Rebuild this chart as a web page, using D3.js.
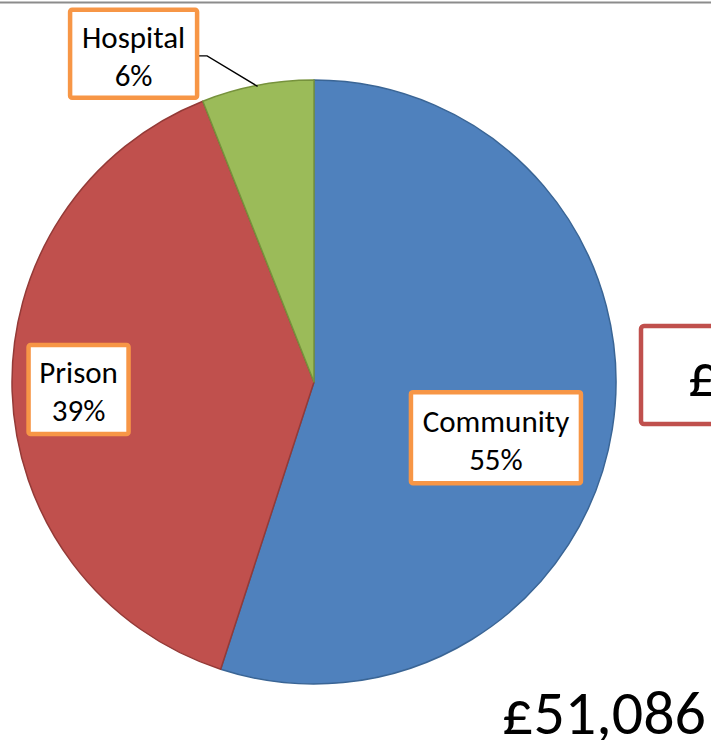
<!DOCTYPE html>
<html>
<head>
<meta charset="utf-8">
<script src="https://cdn.jsdelivr.net/npm/d3@7"></script>
<style>
  html, body { margin: 0; padding: 0; background: #fff; overflow: hidden; }
  text { font-family: Carlito, Calibri, Lato, "Open Sans", sans-serif; fill: #000; }
</style>
</head>
<body>
<div id="chart"></div>
<script>
// chart data
var categories = ['Community', 'Prison', 'Hospital'];
var shares = [55, 39, 6];
var totalLabel = '£51,086';

var fills = ['#4f81bd', '#c0504d', '#9bbb59'];
var strokes = ['#3a6595', '#943a37', '#76923c'];

var width = 711, height = 740;
var cx = 314, cy = 382, radius = 302;

// label layout: distance from centre (as share of radius) and angle tweak in degrees
var labelLayout = [
  {dist: 0.63, turn: 8, w: 170, h: 91},
  {dist: 0.78, turn: 0, w: 100, h: 89},
  {dist: 1.24, turn: -18, w: 127, h: 88}
];

var svg = d3.select('#chart').append('svg')
  .attr('width', width)
  .attr('height', height);

// top rule
svg.append('line')
  .attr('x1', 0).attr('x2', width)
  .attr('y1', 2.5).attr('y2', 2.5)
  .attr('stroke', '#8c8c8c')
  .attr('stroke-width', 2);

var pieData = categories.map(function(c, i) { return {name: c, value: shares[i], i: i}; });
var pie = d3.pie().sort(null).value(function(d) { return d.value; });
var arcs = pie(pieData);
var arc = d3.arc().innerRadius(0).outerRadius(radius);

var g = svg.append('g').attr('transform', 'translate(' + cx + ',' + cy + ')');

g.selectAll('path.slice')
  .data(arcs)
  .enter().append('path')
  .attr('class', 'slice')
  .attr('d', arc)
  .attr('fill', function(d) { return fills[d.data.i]; })
  .attr('stroke', function(d) { return strokes[d.data.i]; })
  .attr('stroke-width', 1.5)
  .attr('stroke-linejoin', 'round');

function labelPos(d) {
  var lay = labelLayout[d.data.i];
  var a = (d.startAngle + d.endAngle) / 2 + lay.turn * Math.PI / 180;
  var r = radius * lay.dist;
  return [r * Math.sin(a), -r * Math.cos(a)];
}

// leader line for outside label (hospital), ends at the slice's mid angle
arcs.forEach(function(d) {
  var lay = labelLayout[d.data.i];
  if (lay.dist <= 1) return;
  var p = labelPos(d);
  var a = (d.startAngle + d.endAngle) / 2;
  var edge = [(radius - 1) * Math.sin(a), -(radius - 1) * Math.cos(a)];
  var bx = p[0] + lay.w / 2;
  var by = p[1] + 2;
  g.append('polyline')
    .attr('points', [[bx, by], [bx + 10, by], edge].map(function(q) { return q.join(','); }).join(' '))
    .attr('fill', 'none')
    .attr('stroke', '#000')
    .attr('stroke-width', 1.3);
});

var labels = g.selectAll('g.label')
  .data(arcs)
  .enter().append('g')
  .attr('class', 'label')
  .attr('transform', function(d) { return 'translate(' + labelPos(d).join(',') + ')'; });

labels.append('rect')
  .attr('x', function(d) { return -labelLayout[d.data.i].w / 2; })
  .attr('y', function(d) { return -labelLayout[d.data.i].h / 2; })
  .attr('width', function(d) { return labelLayout[d.data.i].w; })
  .attr('height', function(d) { return labelLayout[d.data.i].h; })
  .attr('rx', 2)
  .attr('fill', '#fff')
  .attr('stroke', '#f79646')
  .attr('stroke-width', 4.5);

labels.append('text')
  .attr('text-anchor', 'middle')
  .attr('font-size', 31)
  .attr('y', -6)
  .text(function(d) { return d.data.name; });

labels.append('text')
  .attr('text-anchor', 'middle')
  .attr('font-size', 31)
  .attr('y', 32)
  .text(function(d) { return d.data.value + '%'; });

// partially visible box on the right
svg.append('rect')
  .attr('x', 641).attr('y', 326)
  .attr('width', 120).attr('height', 98)
  .attr('rx', 3)
  .attr('fill', '#fff')
  .attr('stroke', '#c0504d')
  .attr('stroke-width', 4.5);

svg.append('text')
  .attr('x', 688).attr('y', 396)
  .attr('font-size', 60)
  .text('£');

svg.append('text')
  .attr('x', 502).attr('y', 734)
  .attr('font-size', 62)
  .text(totalLabel);
</script>
</body>
</html>
